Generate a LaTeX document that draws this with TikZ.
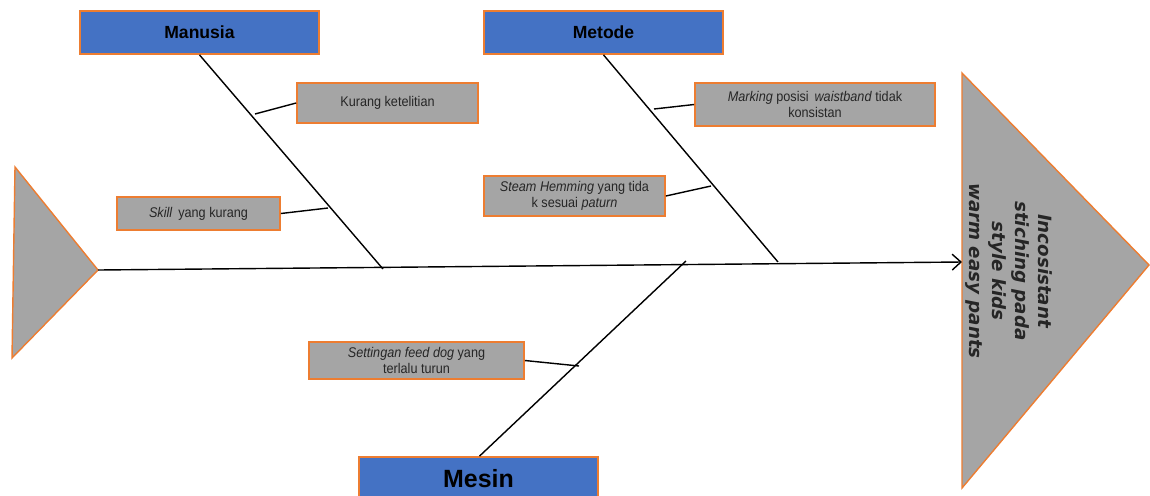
\documentclass[tikz,border=0pt]{standalone}
\usepackage{fontspec}
\setmainfont{Liberation Sans}
\newfontfamily\narrowsans[FakeStretch=0.9]{Liberation Sans}
\newfontfamily\dejavu{DejaVu Sans}
\usetikzlibrary{arrows.meta}
\definecolor{obord}{HTML}{ED7D31}
\definecolor{gfill}{HTML}{A5A5A5}
\definecolor{bfill}{HTML}{4472C4}
\definecolor{dtext}{HTML}{262626}
\begin{document}
\begin{tikzpicture}[x=0.02cm,y=-0.02cm,
  catbox/.style={draw=obord,fill=bfill,line width=1pt,inner sep=0pt,font=\fontsize{10}{12}\selectfont\bfseries},
  causebox/.style={draw=obord,fill=gfill,line width=1pt,inner sep=0pt,align=center,text=dtext,font=\narrowsans\fontsize{8}{9.4}\selectfont},
  bone/.style={line width=0.8pt,black},
  tri/.style={draw=obord,fill=gfill,line width=0.8pt}]
\useasboundingbox (0,0) rectangle (1150,495);
\clip (0,0) rectangle (1150,495);
% heads
\fill[tri] (15,167) -- (98,270) -- (12,358) -- cycle;
\fill[tri] (962,73) -- (1149,265) -- (962,488) -- cycle;
\node[rotate=-90,align=center,font=\dejavu\fontsize{10.4}{13}\selectfont\bfseries\itshape,text=dtext] (effect) at (1009,271) {Incosistant\\stiching pada\\style kids\\warm easy pants};
\coordinate (tail) at (98,270);
\coordinate (head) at (962,262);
% category boxes
\node[catbox,minimum width=4.78cm,minimum height=0.86cm] (manusia) at (199.5,32.5) {Manusia};
\node[catbox,minimum width=4.78cm,minimum height=0.86cm] (metode) at (603.5,32.5) {Metode};
\node[catbox,minimum width=4.78cm,minimum height=0.86cm,font=\fontsize{14.2}{16}\selectfont\bfseries] (mesin) at (478.5,478.5) {Mesin};
% cause boxes
\node[causebox,minimum width=3.62cm,minimum height=0.8cm] (kurang) at (387.5,103) {Kurang ketelitian};
\node[causebox,minimum width=3.26cm,minimum height=0.66cm] (skill) at (198.5,213.5) {\textit{Skill}\, yang kurang};
\node[causebox,minimum width=4.8cm,minimum height=0.86cm] (marking) at (815,104.5) {\textit{Marking} posisi\, \textit{waistband} tidak\\konsistan};
\node[causebox,minimum width=3.62cm,minimum height=0.8cm] (steam) at (574.5,196) {\textit{Steam Hemming} yang tida\\k sesuai \textit{paturn}};
\node[causebox,minimum width=4.3cm,minimum height=0.74cm] (setting) at (416.5,360.5) {\textit{Settingan feed dog} yang\\terlalu turun};
% spine
\draw[bone,-{Straight Barb[length=5pt,width=9pt]}] (tail) -- (head);
% bones
\coordinate (mend) at (383,269);
\coordinate (tend) at (778,262);
\coordinate (send) at (686,261);
\draw[bone] (manusia.south) -- (mend);
\draw[bone] (metode.south) -- (tend);
\draw[bone] (mesin.north) ++(1,0) -- (send);
% sub bones
\coordinate (k1) at (255,114);
\coordinate (s1) at (328,208);
\coordinate (m1) at (654,109);
\coordinate (h1) at (711,186);
\coordinate (f1) at (579,366);
\draw[bone] (kurang.west) -- (k1);
\draw[bone] (skill.east) -- (s1);
\draw[bone] (marking.west) -- (m1);
\draw[bone] (steam.east) -- (h1);
\draw[bone] (setting.east) -- (f1);
\end{tikzpicture}
\end{document}
